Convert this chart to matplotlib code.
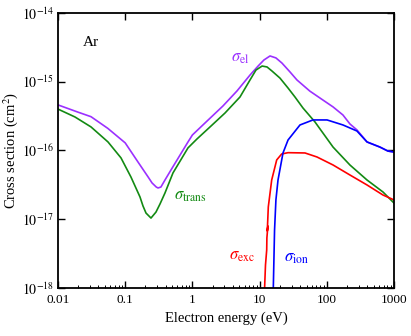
import matplotlib
matplotlib.use("Agg")
import matplotlib.pyplot as plt
from matplotlib.ticker import LogLocator, NullLocator, NullFormatter

# Ar electron cross sections (eV, cm^2)
el_energy = [0.01, 0.02, 0.031, 0.055, 0.1, 0.155, 0.22, 0.251, 0.29, 0.308, 0.34,
             0.391, 0.48, 0.86, 1.0, 1.5, 2.85, 4.61, 7.2, 9.5, 11.6, 14.3, 17.5,
             21.5, 28.3, 36, 56, 88, 124, 174, 221, 281, 397, 619, 814, 1000]
el_sigma = [4.6e-16, 3.6e-16, 3.1e-16, 2.1e-16, 1.29e-16, 6.8e-17, 4.1e-17, 3.37e-17,
            2.94e-17, 2.85e-17, 2.94e-17, 3.72e-17, 5.2e-17, 1.33e-16, 1.68e-16,
            2.45e-16, 4.44e-16, 7.34e-16, 1.25e-15, 1.69e-15, 2.07e-15, 2.37e-15,
            2.22e-15, 1.87e-15, 1.39e-15, 1.06e-15, 7.3e-16, 5.4e-16, 4.3e-16,
            3.28e-16, 2.43e-16, 1.99e-16, 1.33e-16, 1.12e-16, 9.8e-17, 9.5e-17]

trans_energy = [0.01, 0.0179, 0.031, 0.0555, 0.0866, 0.122, 0.166, 0.184, 0.204, 0.242,
                0.287, 0.33, 0.391, 0.514, 0.86, 1.17, 1.83, 3.06, 5.11, 7.2, 8.84,
                10.9, 12.9, 15.3, 20.1, 26.5, 33.6, 44.2, 66.7, 124, 221, 397, 686, 1000]
trans_sigma = [4.0e-16, 3.07e-16, 2.2e-16, 1.33e-16, 7.8e-17, 4.1e-17, 2.11e-17, 1.56e-17,
               1.23e-17, 1.04e-17, 1.27e-17, 1.67e-17, 2.41e-17, 4.71e-17, 1.09e-16,
               1.47e-16, 2.2e-16, 3.51e-16, 6.0e-16, 1.06e-15, 1.48e-15, 1.69e-15,
               1.64e-15, 1.43e-15, 1.13e-15, 8.1e-16, 6.0e-16, 4.15e-16, 2.6e-16,
               1.12e-16, 6.15e-17, 3.72e-17, 2.49e-17, 1.72e-17]

exc_energy = [11.55, 12.24, 12.76, 12.84, 13.29, 13.02, 13.48, 15.14, 17.97, 21.3,
              26.5, 47.4, 71.5, 124, 221, 397, 686, 1000]
exc_sigma = [5e-19, 2.16e-18, 3.57e-18, 5.34e-18, 7.98e-18, 6.75e-18, 1.51e-17, 3.72e-17,
             7.28e-17, 8.89e-17, 9.29e-17, 9.2e-17, 8.04e-17, 6.15e-17, 4.4e-17,
             3.15e-17, 2.25e-17, 1.91e-17]

ion_energy = [15.76, 16.7, 17.5, 18.8, 22.3, 26.5, 39.9, 62.3, 101, 174, 281, 397,
              619, 814, 1000]
ion_sigma = [5e-19, 6.98e-18, 1.91e-17, 3.72e-17, 9.2e-17, 1.42e-16, 2.35e-16, 2.78e-16,
             2.78e-16, 2.35e-16, 1.92e-16, 1.33e-16, 1.12e-16, 9.8e-17, 9.5e-17]

x_ticks = [0.01, 0.1, 1, 10, 100, 1000]
x_ticklabels = ['0.01', '0.1', '1', '10', '100', '1000']
y_ticks = [1e-18, 1e-17, 1e-16, 1e-15, 1e-14]
y_ticklabels = ['$10^{-18}$', '$10^{-17}$', '$10^{-16}$', '$10^{-15}$', '$10^{-14}$']

plt.rcParams['font.family'] = ['Liberation Serif', 'DejaVu Serif']
plt.rcParams['mathtext.fontset'] = 'stix'

fig = plt.figure(figsize=(4.11, 3.36), dpi=100)
ax = fig.add_axes([0.1411, 0.1429, 0.8175, 0.8185])

lw = 1.2
ax.plot(el_energy, el_sigma, color='#9b30ff', lw=lw)
ax.plot(trans_energy, trans_sigma, color='#138a13', lw=lw)
ax.plot(exc_energy, exc_sigma, color='#ff0000', lw=lw)
ax.plot(ion_energy, ion_sigma, color='#0000ff', lw=lw)

ax.set_xscale('log')
ax.set_yscale('log')
ax.set_xlim(0.01, 1000)
ax.set_ylim(1e-18, 1e-14)

ax.set_xticks(x_ticks)
ax.set_xticklabels(x_ticklabels)
ax.set_yticks(y_ticks)
ax.set_yticklabels(y_ticklabels)
ax.xaxis.set_minor_locator(LogLocator(base=10, subs=range(2, 10), numticks=20))
ax.xaxis.set_minor_formatter(NullFormatter())
ax.yaxis.set_minor_locator(NullLocator())

ax.tick_params(which='major', direction='in', length=5, width=1.0,
               top=True, right=True)
ax.tick_params(axis='x', which='major', labelsize=9.5, pad=4.5)
ax.tick_params(axis='y', which='major', labelsize=10, pad=3)
ax.tick_params(which='minor', direction='in', length=2, width=0.7, top=False, right=False)
for s in ax.spines.values():
    s.set_linewidth(1.3)

ax.set_xlabel('Electron energy (eV)', fontsize=10.5, labelpad=4)
ax.set_ylabel('Cross section (cm$^2$)', fontsize=10.5)
ax.yaxis.set_label_coords(-0.112, 0.5)

ax.text(0.074, 0.891, 'Ar', transform=ax.transAxes, fontsize=11, va='center', ha='left')
ax.text(0.515, 0.835, r'$\sigma_{\rm el}$', transform=ax.transAxes, fontsize=12,
        color='#9b30ff', va='center', ha='left')
ax.text(0.345, 0.335, r'$\sigma_{\rm trans}$', transform=ax.transAxes, fontsize=12,
        color='#138a13', va='center', ha='left')
ax.text(0.51, 0.118, r'$\sigma_{\rm exc}$', transform=ax.transAxes, fontsize=12,
        color='#ff0000', va='center', ha='left')
ax.text(0.673, 0.11, r'$\sigma_{\rm ion}$', transform=ax.transAxes, fontsize=12,
        color='#0000ff', va='center', ha='left')

fig.savefig('out.png', dpi=100)
